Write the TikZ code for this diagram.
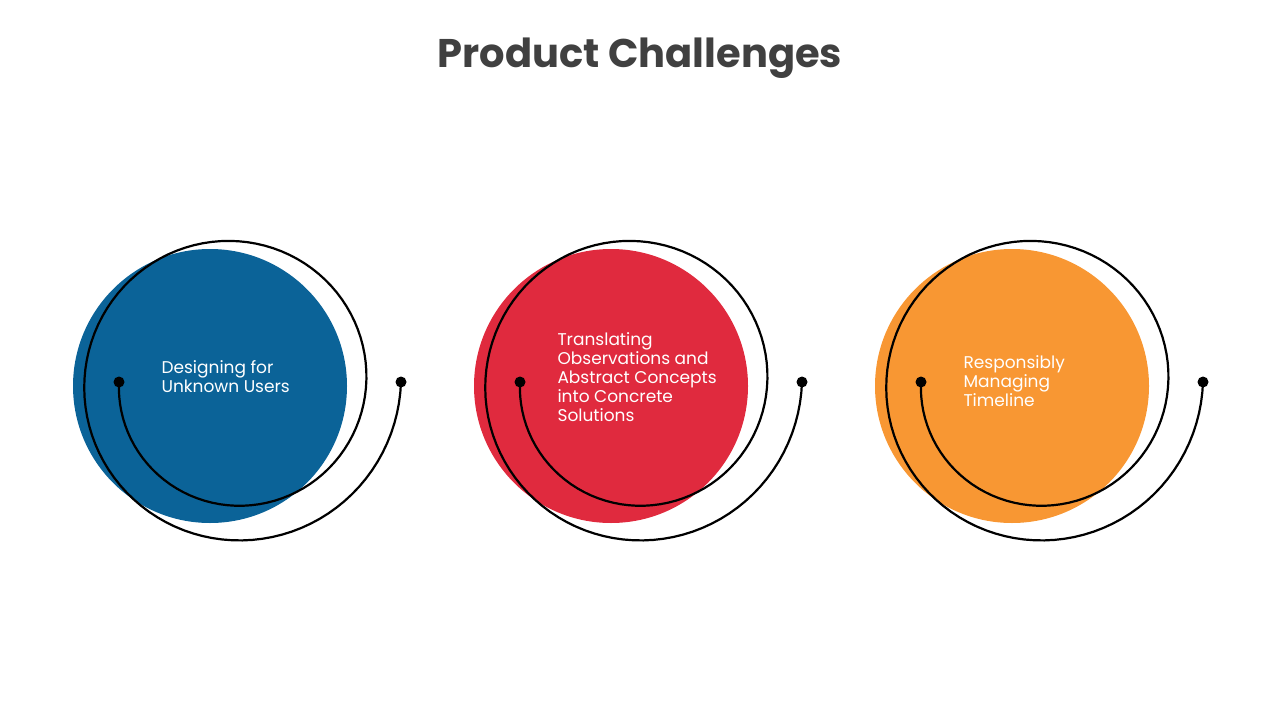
\documentclass[tikz,border=0pt]{standalone}
\usepackage{fontspec}
\setmainfont{Poppins}
\definecolor{chblue}{HTML}{0B6398}
\definecolor{chred}{HTML}{E02A3E}
\definecolor{chorange}{HTML}{F89733}
\definecolor{chtitle}{HTML}{404040}
\tikzset{
  blob/.style={circle, minimum size=274pt, inner sep=0pt},
  spiral/.style={line width=2.2pt, black},
  label/.style={anchor=west, align=left, text=white, font=\fontsize{17}{22}\selectfont},
}
\begin{document}
\begin{tikzpicture}[x=1pt,y=1pt,yscale=-1]
\useasboundingbox (0,0) rectangle (1280,720);
\node[font=\bfseries\fontsize{40}{48}\selectfont, text=chtitle] (title) at (640,58) {Product Challenges};

% three circles with spiral outlines
\foreach \ox/\col/\name in {0/chblue/a, 401/chred/b, 802/chorange/c} {
  \node[blob, fill=\col] (blob\name) at (210+\ox,386) {};
  \draw[spiral] plot[domain=180:-360, samples=150, variable=\t]
    ({234+\ox+(115+0.0963*(180-\t))*cos(\t)}, {382+(115+0.0963*(180-\t))*sin(\t)});
  \fill (119+\ox,382) circle (5.5);
  \fill (401+\ox,382) circle (5.5);
}

% Text Node
\node[label] (ta) at (158,377) {Designing for\\[-3pt]Unknown Users};
% Text Node
\node[label] (tb) at (554,377) {Translating\\[-3pt]Observations and\\[-3pt]Abstract Concepts\\[-3pt]into Concrete\\[-3pt]Solutions};
% Text Node
\node[label] (tc) at (960,381) {Responsibly\\[-3pt]Managing\\[-3pt]Timeline};
\end{tikzpicture}
\end{document}
